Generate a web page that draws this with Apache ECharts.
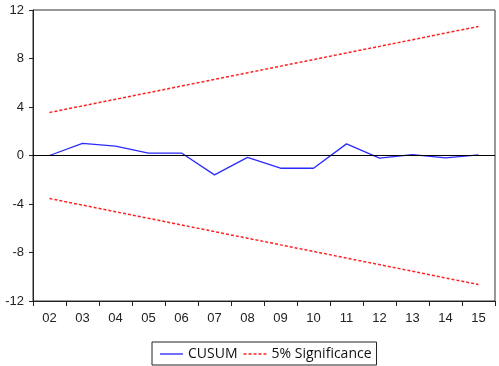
<!DOCTYPE html>
<html><head><meta charset="utf-8">
<script src="https://cdn.jsdelivr.net/npm/echarts@6/dist/echarts.min.js"></script>
<style>html,body{margin:0;padding:0;background:#fff}#c{width:499px;height:366px}</style>
</head><body><div id="c"></div>
<script>
var categories = ['02','03','04','05','06','07','08','09','10','11','12','13','14','15'];
var cusum = [0.0, 1.0, 0.77, 0.2, 0.2, -1.6, -0.15, -1.05, -1.05, 0.96, -0.22, 0.08, -0.19, 0.06];
var upper = [3.55, 4.09, 4.64, 5.18, 5.73, 6.28, 6.82, 7.37, 7.91, 8.46, 9.00, 9.55, 10.10, 10.64];
var lower = [-3.55, -4.09, -4.64, -5.18, -5.73, -6.28, -6.82, -7.37, -7.91, -8.46, -9.00, -9.55, -10.10, -10.64];
var yTicks = {min: -12, max: 12, interval: 4};

var chart = echarts.init(document.getElementById('c'), null, {renderer: 'canvas'});
var font = 'Liberation Sans, Arial, sans-serif';
var solidIcon = 'path://M0,0h24v1.4h-24z';
var dashIcon = 'path://M0,0h3v1.4h-3z M5,0h3v1.4h-3z M10,0h3v1.4h-3z M15,0h3v1.4h-3z M20,0h3v1.4h-3z';
chart.setOption({
  animation: false,
  grid: {left: 33, right: 4, top: 10, bottom: 65, show: true, borderColor: '#333', borderWidth: 1, backgroundColor: 'transparent'},
  legend: {
    bottom: 1, left: 152,
    data: [{name: 'CUSUM', icon: solidIcon}, {name: '5% Significance', icon: dashIcon}],
    borderColor: '#222', borderWidth: 1, padding: [5, 5, 4, 8],
    itemWidth: 23, itemHeight: 2, itemGap: 6,
    textStyle: {fontFamily: 'Open Sans, sans-serif', fontSize: 14, color: '#111'}
  },
  xAxis: {
    type: 'category', data: categories, boundaryGap: true,
    axisLine: {show: true, onZero: false, lineStyle: {color: '#222', width: 1}},
    axisTick: {show: true, inside: false, length: 5, alignWithLabel: false, lineStyle: {color: '#222'}},
    axisLabel: {fontFamily: font, fontSize: 13, color: '#222', margin: 11},
    splitLine: {show: false}
  },
  yAxis: {
    type: 'value', min: yTicks.min, max: yTicks.max, interval: yTicks.interval,
    axisLine: {show: true, lineStyle: {color: '#222', width: 1}},
    axisTick: {show: true, length: 4, lineStyle: {color: '#222'}},
    axisLabel: {fontFamily: font, fontSize: 13, color: '#222', margin: 9},
    splitLine: {show: false}
  },
  series: [
    {name: 'CUSUM', type: 'line', data: cusum, symbol: 'none',
     lineStyle: {color: '#2b2bff', width: 1.3}, itemStyle: {color: '#2b2bff'},
     markLine: {silent: true, symbol: 'none', label: {show: false},
       lineStyle: {color: '#000', width: 1, type: 'solid'}, data: [{yAxis: 0}]}},
    {name: '5% Significance', type: 'line', data: upper, symbol: 'none',
     lineStyle: {color: '#ff2020', width: 1.5, type: [3, 2]}, itemStyle: {color: '#ff2020'}},
    {name: '5% Significance', type: 'line', data: lower, symbol: 'none',
     lineStyle: {color: '#ff2020', width: 1.5, type: [3, 2]}, itemStyle: {color: '#ff2020'}}
  ]
});
</script></body></html>
